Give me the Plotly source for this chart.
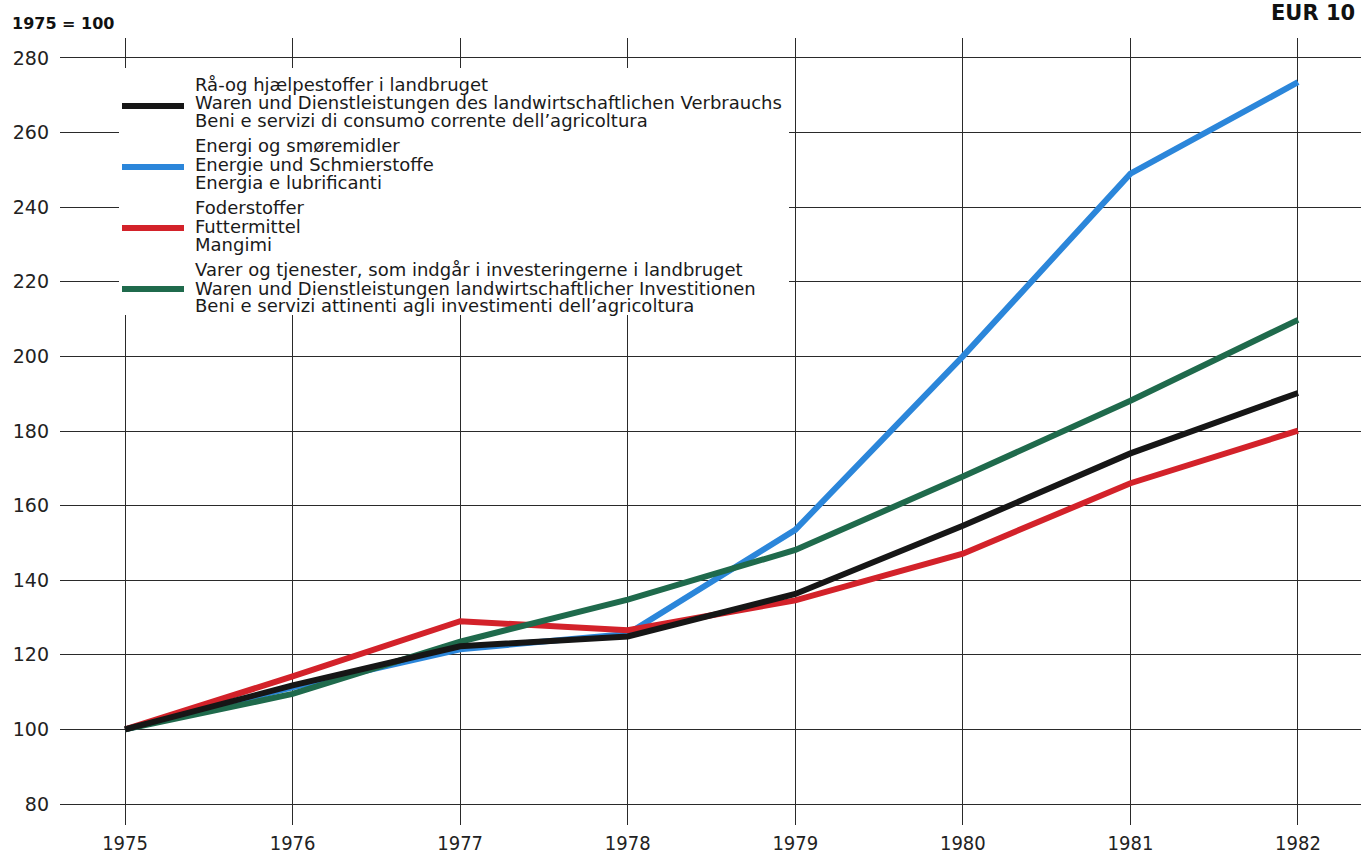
import plotly.graph_objects as go

# index 1975 = 100, EUR 10
years = [1975, 1976, 1977, 1978, 1979, 1980, 1981, 1982]
current_inputs = [100, 111.8, 122.3, 124.9, 136.3, 154.6, 174.0, 190.2]
energy = [100, 111.3, 121.5, 125.6, 153.5, 200.0, 249.0, 273.5]
feed = [100, 114.2, 129.0, 126.6, 134.6, 147.1, 166.0, 180.1]
investment = [100, 109.5, 123.5, 134.8, 148.1, 167.8, 188.1, 209.8]

series_labels = [
    ["Rå-og hjælpestoffer i landbruget",
     "Waren und Dienstleistungen des landwirtschaftlichen Verbrauchs",
     "Beni e servizi di consumo corrente dell’agricoltura"],
    ["Energi og smøremidler",
     "Energie und Schmierstoffe",
     "Energia e lubrificanti"],
    ["Foderstoffer",
     "Futtermittel",
     "Mangimi"],
    ["Varer og tjenester, som indgår i investeringerne i landbruget",
     "Waren und Dienstleistungen landwirtschaftlicher Investitionen",
     "Beni e servizi attinenti agli investimenti dell’agricoltura"],
]
y_ticks = [80, 100, 120, 140, 160, 180, 200, 220, 240, 260, 280]

colors = ["#161616", "#2b86da", "#d3222a", "#1f6a4c"]
values = [current_inputs, energy, feed, investment]

W, H = 1361, 854
L, R, T, B = 60, 0, 38, 29
PW, PH = W - L - R, H - T - B


def px_x(x):
    return (x - L) / PW


def px_y(y):
    return 1 - (y - T) / PH


fig = go.Figure()

# draw order: blue, red, green, black on top; legend order black, blue, red, green
draw_order = [1, 2, 3, 0]
for i in draw_order:
    fig.add_trace(go.Scatter(
        x=years, y=values[i], mode="lines",
        line=dict(color=colors[i], width=6),
        name=" ", legendgroup="g%d" % i, legendrank=i + 1,
        hoverinfo="x+y",
    ))

# white panel behind the legend
fig.add_shape(type="rect", xref="paper", yref="paper",
              x0=px_x(119), x1=px_x(789), y0=px_y(315), y1=px_y(68),
              fillcolor="white", line_width=0, layer="above")

# legend text, one annotation per line (tight leading like the print)
swatch_y = [104, 165.5, 227.5, 289]
offsets = [-20, -1, 17]
for k, lines in enumerate(series_labels):
    for j, txt in enumerate(lines):
        fig.add_annotation(
            x=px_x(193), y=px_y(swatch_y[k] + offsets[j]),
            xref="paper", yref="paper", xanchor="left", yanchor="middle",
            text=txt, showarrow=False,
            font=dict(family="DejaVu Sans", size=18, color="#1a1a1a"),
        )

fig.add_annotation(x=px_x(10), y=px_y(23), xref="paper", yref="paper",
                   xanchor="left", yanchor="middle", showarrow=False,
                   text="<b>1975 = 100</b>",
                   font=dict(family="DejaVu Sans", size=16, color="#111"))
fig.add_annotation(x=px_x(1357), y=px_y(13), xref="paper", yref="paper",
                   xanchor="right", yanchor="middle", showarrow=False,
                   text="<b>EUR 10</b>",
                   font=dict(family="DejaVu Sans", size=21, color="#111"))

fig.update_layout(
    width=W, height=H,
    margin=dict(l=L, r=R, t=T, b=B, autoexpand=False),
    paper_bgcolor="white", plot_bgcolor="white",
    showlegend=True,
    legend=dict(
        x=px_x(117), y=px_y(91.5), xanchor="left", yanchor="top",
        bgcolor="rgba(0,0,0,0)", borderwidth=0,
        itemwidth=62, tracegroupgap=42,
        font=dict(size=12),
    ),
    xaxis=dict(
        range=[1974.612, 1982.376], tickmode="array", tickvals=years,
        showgrid=True, gridcolor="#2a2a2a", gridwidth=1.2, automargin=False,
        zeroline=False, showline=False, ticks="", ticklabelstandoff=4,
        tickfont=dict(family="Liberation Sans Narrow, DejaVu Sans Condensed", size=20, color="#222"),
    ),
    yaxis=dict(
        range=[74.37, 285.36], tickmode="array", tickvals=y_ticks,
        showgrid=True, gridcolor="#2a2a2a", gridwidth=1.2, automargin=False,
        zeroline=False, showline=False, ticks="", ticklabelstandoff=10,
        tickfont=dict(family="DejaVu Sans", size=19, color="#222"),
    ),
)

# the page's default body margin would push the fixed-size figure off-screen
fig.write_html("out.html", config={"displayModeBar": False},
               post_script="document.body.style.margin='0';")
